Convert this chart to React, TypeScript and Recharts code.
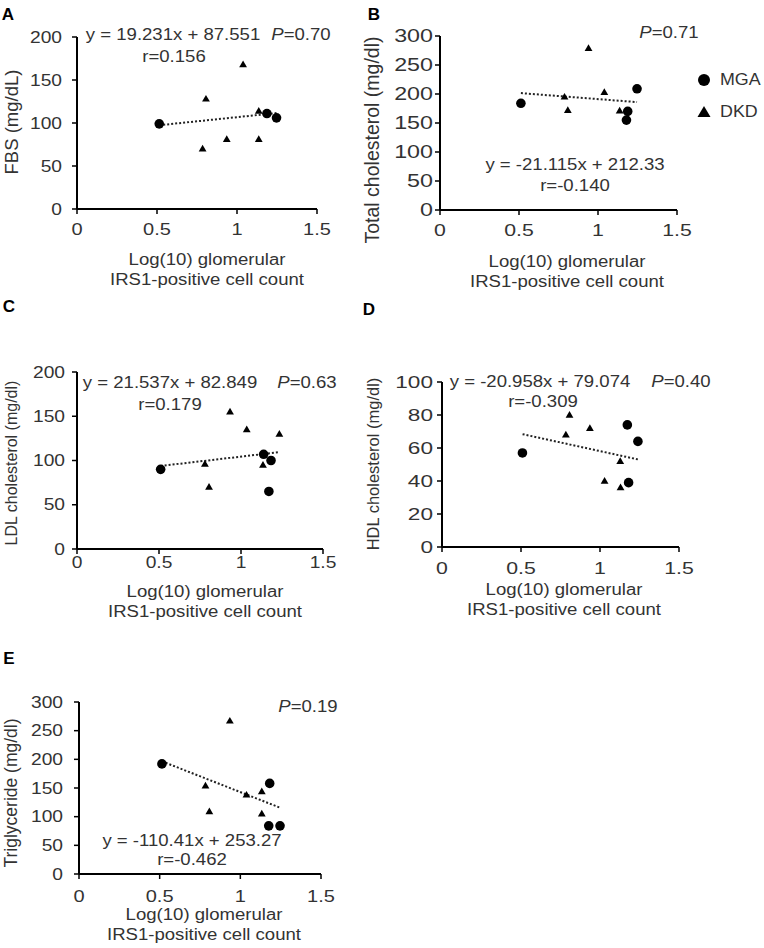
import { ScatterChart, Scatter, XAxis, YAxis } from 'recharts'

const FONT = '"Liberation Sans", Arial, Helvetica, sans-serif'
const INK = '#333'

const xTicks = [0, 0.5, 1, 1.5]

// A: FBS
const fbsMgaX = [0.514, 1.187, 1.247]
const fbsMgaY = [99, 111, 106]
const fbsDkdX = [0.785, 0.806, 0.936, 1.038, 1.136, 1.136]
const fbsDkdY = [70, 128, 81, 168, 114, 81]

// B: total cholesterol
const tcMgaX = [0.512, 1.18, 1.188, 1.247]
const tcMgaY = [184, 155, 170, 209]
const tcDkdX = [0.788, 0.809, 0.94, 1.04, 1.137]
const tcDkdY = [195, 172, 279, 203, 171]

// C: LDL
const ldlMgaX = [0.51, 1.138, 1.17, 1.183]
const ldlMgaY = [90, 107, 65, 100]
const ldlDkdX = [0.78, 0.805, 0.933, 1.035, 1.134, 1.234]
const ldlDkdY = [96, 70, 155, 135, 95, 130]

// D: HDL
const hdlMgaX = [0.509, 1.173, 1.181, 1.24]
const hdlMgaY = [57, 74, 39, 64]
const hdlDkdX = [0.784, 0.807, 0.936, 1.029, 1.128, 1.13]
const hdlDkdY = [68, 80, 72, 40, 52, 36]

// E: triglyceride
const tgMgaX = [0.514, 1.176, 1.182, 1.246]
const tgMgaY = [192, 84, 158, 84]
const tgDkdX = [0.784, 0.808, 0.935, 1.038, 1.133, 1.133]
const tgDkdY = [154, 109, 267, 138, 144, 105]

// trend lines (from the printed equations)
const fitSlope = [19.231, -21.115, 21.537, -20.958, -110.41]
const fitIntercept = [87.551, 212.33, 82.849, 79.074, 253.27]
const fitFrom = [0.514, 0.512, 0.51, 0.51, 0.514]
const fitTo = [1.247, 1.247, 1.236, 1.24, 1.246]

const equations = ['y = 19.231x + 87.551', 'y = -21.115x + 212.33', 'y = 21.537x + 82.849', 'y = -20.958x + 79.074', 'y = -110.41x + 253.27']
const rValues = ['r=0.156', 'r=-0.140', 'r=0.179', 'r=-0.309', 'r=-0.462']
const pValues = ['0.70', '0.71', '0.63', '0.40', '0.19']
const yTitles = ['FBS (mg/dL)', 'Total cholesterol (mg/dl)', 'LDL cholesterol (mg/dl)', 'HDL cholesterol (mg/dl)', 'Triglyceride (mg/dl)']
const letters = ['A', 'B', 'C', 'D', 'E']

const zip = (xs: number[], ys: number[]) => xs.map((x, i) => ({ x, y: ys[i] }))

const Dot = (p: any) => <circle cx={p.cx} cy={p.cy} r={4.8} fill="#000" />
const Tri = (p: any) => <path d={`M${p.cx},${p.cy - 4}L${p.cx + 3.9},${p.cy + 2.7}L${p.cx - 3.9},${p.cy + 2.7}Z`} fill="#000" />
const NoDot = () => <g />

const mkTick = (fs: number, sx: number, anchor: 'end' | 'middle') => (p: any) => (
  <text x={p.x} y={p.y} dy="0.35em" textAnchor={anchor} fontSize={fs} fill={INK} fontFamily={FONT}
    transform={`translate(${p.x} ${p.y}) scale(${sx} 1) translate(${-p.x} ${-p.y})`}>
    {p.payload.value}
  </text>
)

function Txt({ x, y, size = 16, sx = 1.16, rot = false, bold = false, left = false, children }: any) {
  const t = rot ? 'translate(-50%,-50%) rotate(-90deg)' : left ? `translate(0,-50%) scaleX(${sx})` : `translate(-50%,-50%) scaleX(${sx})`
  return <div style={{ position: 'absolute', left: x, top: y, transform: t, transformOrigin: left ? 'left center' : 'center', whiteSpace: 'nowrap', fontSize: size, lineHeight: rot ? 1 : 1.15, fontWeight: bold ? 700 : 400, color: bold ? '#000' : INK }}>{children}</div>
}

const panels = [
  { mga: zip(fbsMgaX, fbsMgaY), dkd: zip(fbsDkdX, fbsDkdY), x0: 77, x1: 317, y0: 37, y1: 209, yMax: 200, yStep: 50, yFs: 16, ySx: 1.2, yGap: 10, xFs: 16, xSx: 1.25, xGap: 15,
    letter: [8, 15], eq: [173, 35], r: [174, 57], p: [301, 35], yt: [12, 122, 18.5], xt: [207, 260] },
  { mga: zip(tcMgaX, tcMgaY), dkd: zip(tcDkdX, tcDkdY), x0: 440, x1: 677, y0: 36, y1: 210, yMax: 300, yStep: 50, yFs: 17.5, ySx: 1.33, yGap: 2, xFs: 16, xSx: 1.33, xGap: 15,
    letter: [374, 15], eq: [575, 165], r: [575, 186], p: [669, 33], yt: [373, 140, 19.5], xt: [567, 262] },
  { mga: zip(ldlMgaX, ldlMgaY), dkd: zip(ldlDkdX, ldlDkdY), x0: 77, x1: 323, y0: 372, y1: 549, yMax: 200, yStep: 50, yFs: 16, ySx: 1.2, yGap: 7, xFs: 16, xSx: 1.2, xGap: 8.5,
    letter: [9, 307], eq: [170, 383], r: [170, 405], p: [307, 383], yt: [12, 463, 16], xt: [205, 592] },
  { mga: zip(hdlMgaX, hdlMgaY), dkd: zip(hdlDkdX, hdlDkdY), x0: 442, x1: 679, y0: 382, y1: 547, yMax: 100, yStep: 20, yFs: 17, ySx: 1.33, yGap: 4, xFs: 16, xSx: 1.33, xGap: 16.5,
    letter: [369, 310], eq: [540, 382], r: [543, 402], p: [681, 382], yt: [373, 464, 16.5], xt: [564, 590] },
  { mga: zip(tgMgaX, tgMgaY), dkd: zip(tgDkdX, tgDkdY), x0: 79, x1: 321, y0: 702, y1: 874, yMax: 300, yStep: 50, yFs: 16, ySx: 1.2, yGap: 11, xFs: 16, xSx: 1.25, xGap: 17.5,
    letter: [9, 659], eq: [192, 841], r: [192, 860], p: [308, 707], yt: [12, 793, 17.5], xt: [204, 915] },
]

function Panel({ cfg, i }: { cfg: any; i: number }) {
  const yw = 70
  const xh = 40
  const rm = 30
  const w = cfg.x1 - cfg.x0 + yw + rm
  const h = cfg.y1 - cfg.y0 + 10 + xh
  const yTicks: number[] = []
  for (let v = 0; v <= cfg.yMax; v += cfg.yStep) yTicks.push(v)
  const fit = [fitFrom[i], fitTo[i]].map(x => ({ x, y: fitSlope[i] * x + fitIntercept[i] }))
  return (
    <>
      <div style={{ position: 'absolute', left: cfg.x0 - yw, top: cfg.y0 - 10 }}>
        <ScatterChart width={w} height={h} margin={{ top: 10, right: rm, bottom: 0, left: 0 }}>
          <XAxis type="number" dataKey="x" domain={[0, 1.5]} ticks={xTicks} height={xh} tickSize={5} tickMargin={cfg.xGap}
            axisLine={{ stroke: '#000', strokeWidth: 2 }} tickLine={{ stroke: '#000', strokeWidth: 1.5 }} tick={mkTick(cfg.xFs, cfg.xSx, 'middle')} />
          <YAxis type="number" dataKey="y" domain={[0, cfg.yMax]} ticks={yTicks} width={yw} tickSize={5} tickMargin={cfg.yGap}
            axisLine={{ stroke: '#000', strokeWidth: 2 }} tickLine={{ stroke: '#000', strokeWidth: 1.5 }} tick={mkTick(cfg.yFs, cfg.ySx, 'end')} />
          <Scatter data={fit} shape={NoDot} line={{ stroke: '#222', strokeWidth: 2, strokeDasharray: '2 2' }} isAnimationActive={false} />
          <Scatter data={cfg.dkd} shape={Tri} isAnimationActive={false} />
          <Scatter data={cfg.mga} shape={Dot} isAnimationActive={false} />
        </ScatterChart>
      </div>
      <Txt x={cfg.letter[0]} y={cfg.letter[1]} size={17} sx={1} bold>{letters[i]}</Txt>
      <Txt x={cfg.eq[0]} y={cfg.eq[1]}>{equations[i]}</Txt>
      <Txt x={cfg.r[0]} y={cfg.r[1]}>{rValues[i]}</Txt>
      <Txt x={cfg.p[0]} y={cfg.p[1]}><i>P</i>={pValues[i]}</Txt>
      <Txt x={cfg.yt[0]} y={cfg.yt[1]} size={cfg.yt[2]} rot>{yTitles[i]}</Txt>
      <Txt x={cfg.xt[0]} y={cfg.xt[1]}>Log(10) glomerular</Txt>
      <Txt x={cfg.xt[0]} y={cfg.xt[1] + 20}>IRS1-positive cell count</Txt>
    </>
  )
}

export default function App() {
  return (
    <div style={{ position: 'absolute', left: 0, top: 0, width: 764, height: 948, background: '#fff', fontFamily: FONT, overflow: 'hidden' }}>
      {panels.map((p, i) => <Panel key={i} cfg={p} i={i} />)}
      <svg style={{ position: 'absolute', left: 696, top: 72 }} width={16} height={48}>
        <circle cx={8} cy={8} r={6} fill="#000" />
        <path d="M8,34L14.5,45L1.5,45Z" fill="#000" />
      </svg>
      <Txt x={720} y={80} size={17} sx={1.05} left>MGA</Txt>
      <Txt x={720} y={112} size={17} sx={1.05} left>DKD</Txt>
    </div>
  )
}
